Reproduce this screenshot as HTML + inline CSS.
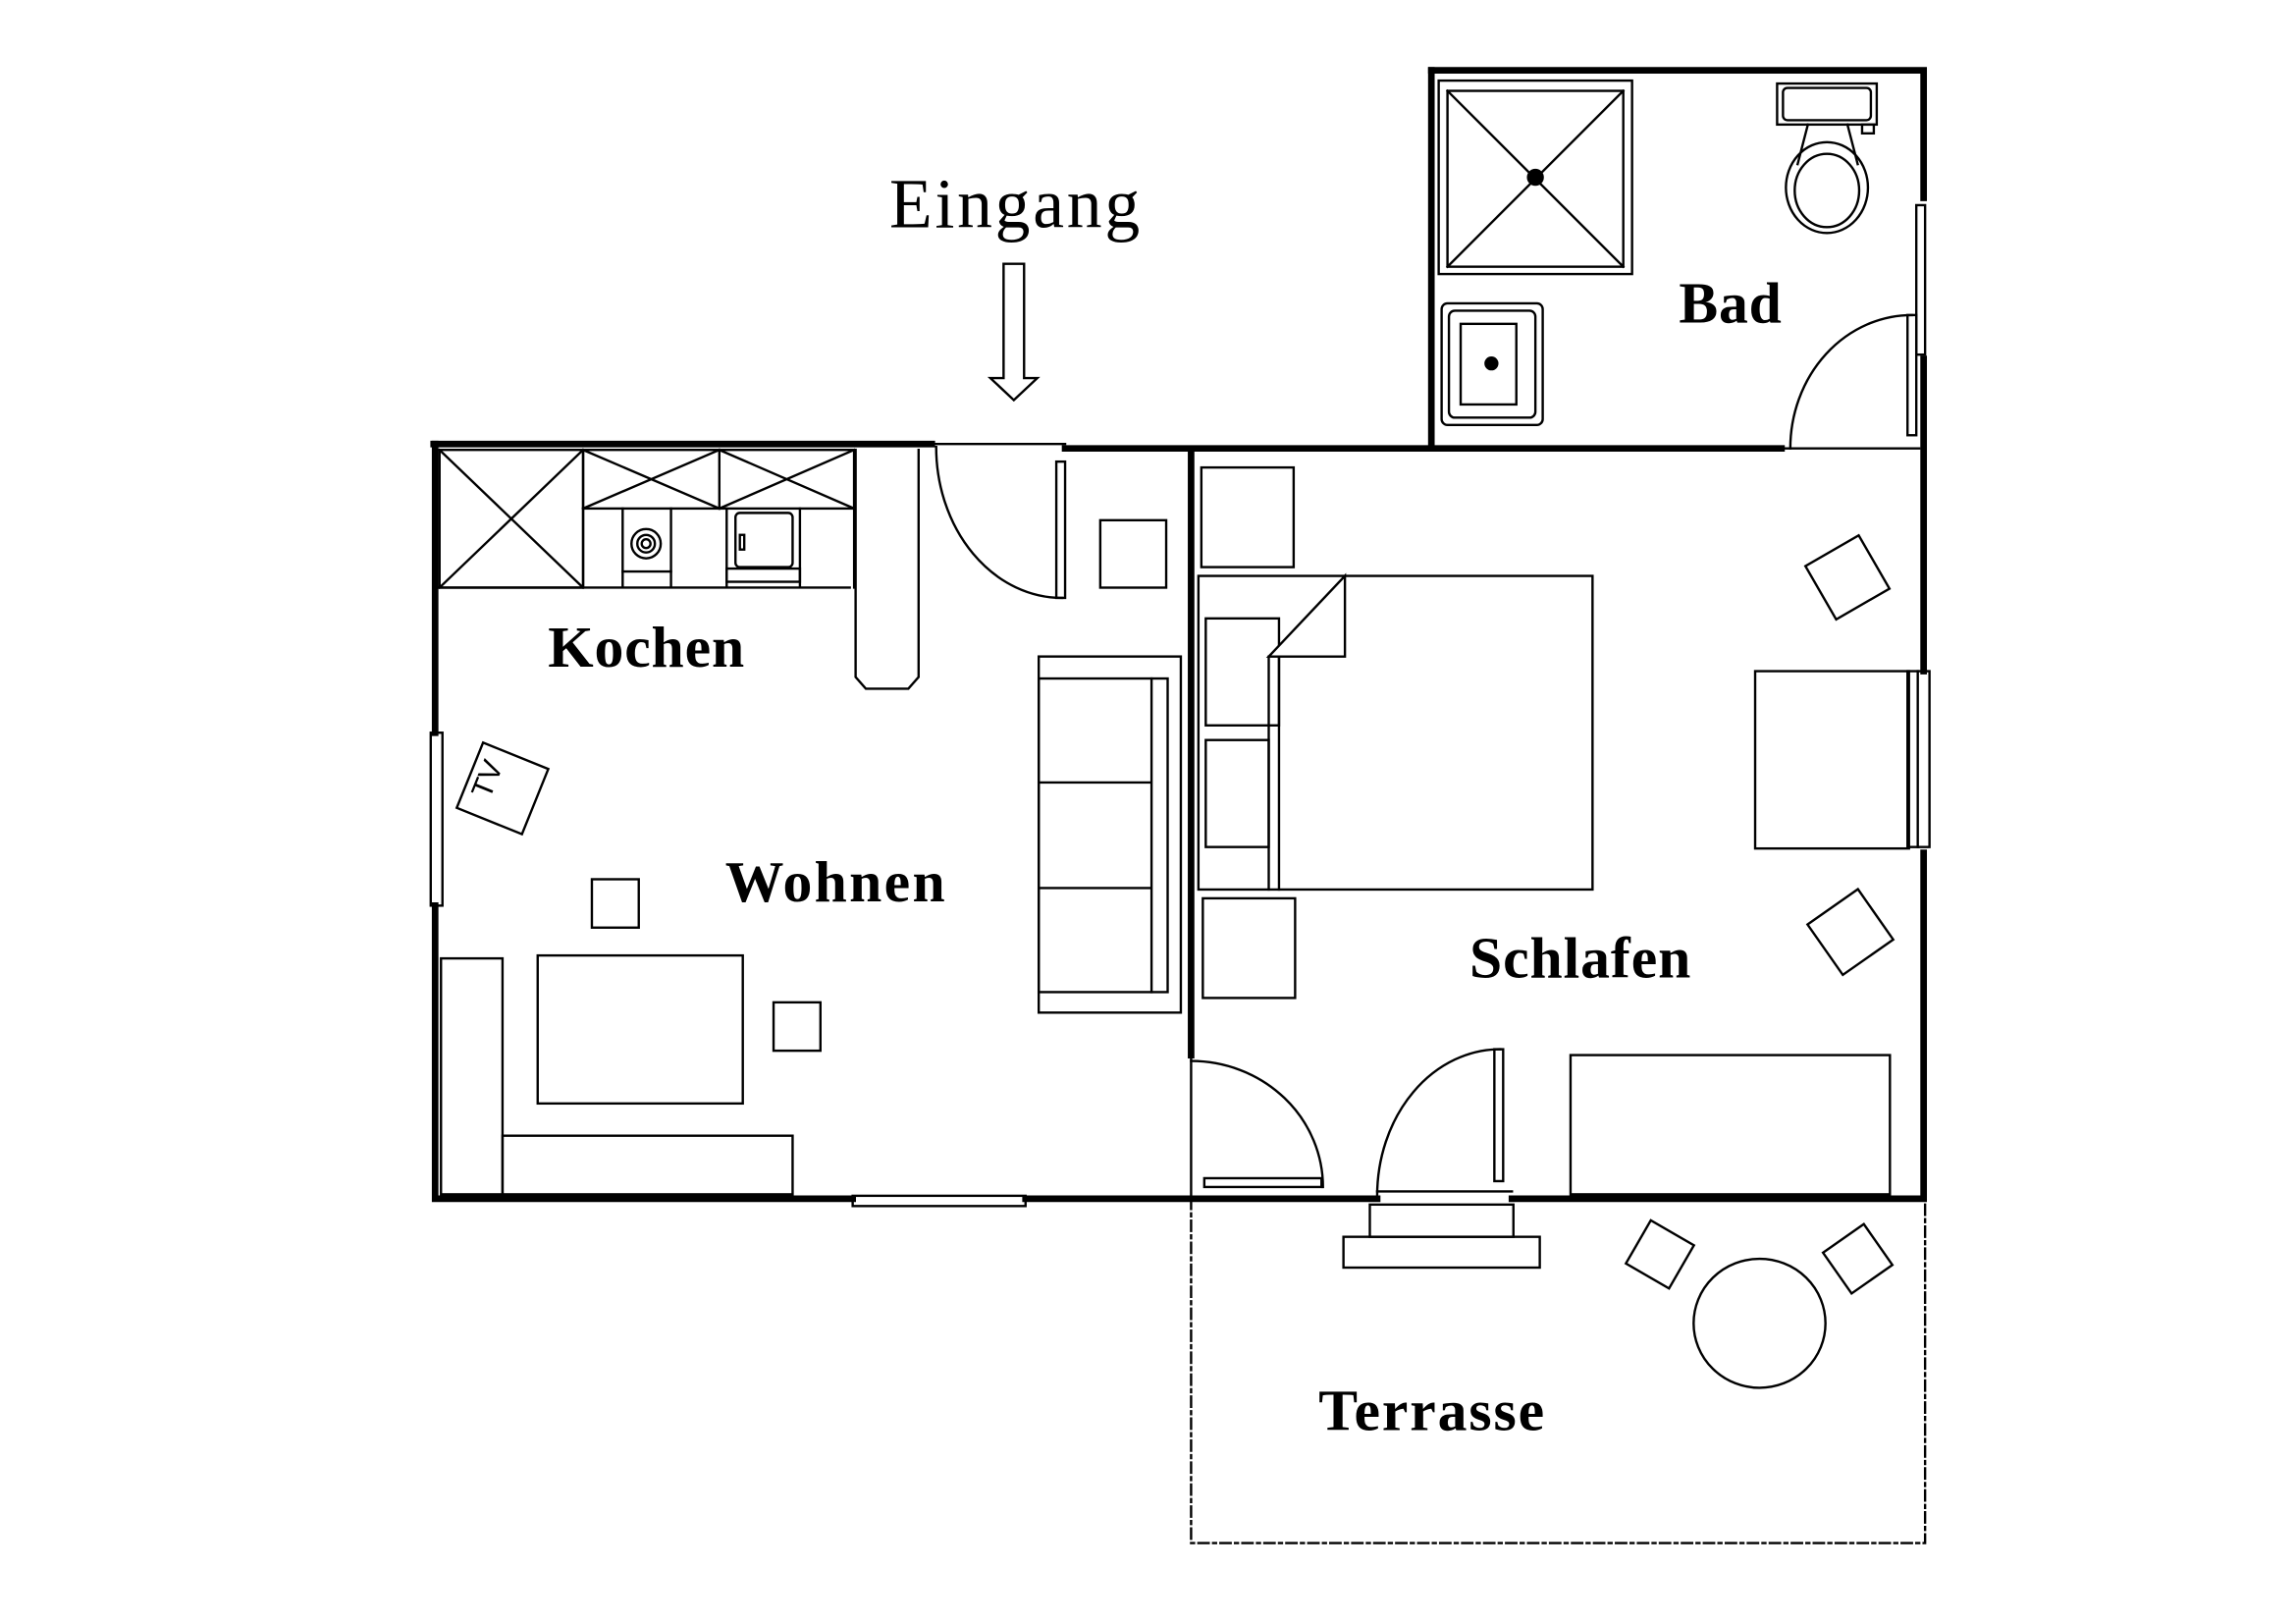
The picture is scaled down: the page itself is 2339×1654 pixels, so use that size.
<!DOCTYPE html>
<html><head><meta charset="utf-8"><style>html,body{margin:0;padding:0;background:#fff}svg{display:block}</style></head><body>
<svg width="2339" height="1654" viewBox="0 0 1559.33 1102.67" xmlns="http://www.w3.org/2000/svg">
<rect x="0" y="0" width="1560" height="1103" fill="#fff"/>
<g transform="scale(0.995)">
<g stroke="#000" fill="none" stroke-linecap="square">
<g stroke-width="4.5">
<path d="M296,303 H636"/>
<path d="M727,306 H1216"/>
<path d="M977,48 V306"/>
<path d="M977,48 H1313 V135"/>
<path d="M1313,245 V458"/>
<path d="M1313,582 V818 H1032"/>
<path d="M940,818 H700"/>
<path d="M582,818 H297 V618"/>
<path d="M297,500 V303"/>
<path d="M813,310 V720"/>
</g>
<g stroke-width="1.6">
<path d="M638,303 H727"/>
<rect x="721" y="315" width="6" height="93"/>
<path d="M639,305 A86,103 0 0 0 725,408"/>
<path d="M1216,306 H1310"/>
<rect x="1302" y="215" width="6" height="82"/>
<path d="M1222,306 A83,91 0 0 1 1305,215"/>
<rect x="1308" y="140" width="6" height="102"/>
<rect x="1302" y="458" width="15" height="120"/>
<path d="M1309,458 V578"/>
<rect x="294" y="500" width="8" height="118"/>
<rect x="582" y="816" width="118" height="7"/>
<path d="M813,720 V818"/>
<rect x="822" y="804" width="80" height="6"/>
<path d="M813,724 A90,86 0 0 1 903,810"/>
<rect x="1020" y="716" width="6" height="90"/>
<path d="M940,816 A84,100 0 0 1 1024,716"/>
<path d="M940,813 H1032"/>
<rect x="935" y="822" width="98" height="22"/>
<rect x="917" y="844" width="134" height="21"/>
<path d="M813,818 V1053 H1314 V818" stroke-dasharray="7 3 2 3"/>
<rect x="300" y="307" width="98" height="94"/>
<path d="M300,307 L398,401 M398,307 L300,401"/>
<rect x="398" y="307" width="185" height="40"/>
<path d="M491,307 V347 M398,307 L491,347 M491,307 L398,347 M491,307 L583,347 M583,307 L491,347"/>
<path d="M300,401 H580 M398,347 V401 M425,347 V401 M458,347 V401 M496,347 V401 M546,347 V401 M583,307 V401"/>
<circle cx="441" cy="371" r="10"/><circle cx="441" cy="371" r="6"/><circle cx="441" cy="371" r="3"/>
<path d="M425,390 H458"/>
<rect x="502" y="350" width="39" height="37" rx="3"/>
<rect x="505" y="365" width="3" height="10"/>
<rect x="496" y="388" width="50" height="9"/>
<path d="M584,307 V462 L591,470 H620 L627,462 V307"/>
<rect x="751" y="355" width="45" height="46"/>
<rect x="709" y="448" width="97" height="243"/>
<rect x="709" y="463" width="88" height="214"/>
<path d="M786,463 V677 M709,534 H786 M709,606 H786"/>
<g transform="translate(343,538) rotate(22)">
<rect x="-24" y="-24" width="48" height="48"/>
</g>
<rect x="404" y="600" width="32" height="33"/>
<rect x="367" y="652" width="140" height="101"/>
<rect x="528" y="684" width="32" height="33"/>
<rect x="301" y="654" width="42" height="161"/>
<rect x="343" y="775" width="198" height="40"/>
<rect x="820" y="319" width="63" height="68"/>
<rect x="818" y="393" width="269" height="214"/>
<rect x="823" y="422" width="50" height="73"/>
<rect x="823" y="505" width="43" height="73"/>
<path d="M866,448 V607 M873,448 V607"/>
<path d="M866,448 L918,393 V448 Z" fill="#fff"/>
<rect x="821" y="613" width="63" height="68"/>
<g transform="translate(1261,394) rotate(-30)"><rect x="-21" y="-21" width="42" height="42"/></g>
<g transform="translate(1263,636) rotate(-35)"><rect x="-21" y="-21" width="42" height="42"/></g>
<rect x="1198" y="458" width="105" height="121"/>
<rect x="1072" y="720" width="218" height="95"/>
<g transform="translate(1133,856) rotate(30)"><rect x="-17" y="-17" width="34" height="34"/></g>
<g transform="translate(1268,859) rotate(-35)"><rect x="-17" y="-17" width="34" height="34"/></g>
<ellipse cx="1201" cy="903" rx="45" ry="44"/>
<rect x="982" y="55" width="132" height="132"/>
<rect x="988" y="62" width="120" height="120"/>
<path d="M988,62 L1108,182 M1108,62 L988,182"/>
<circle cx="1048" cy="121" r="5" fill="#000"/>
<rect x="984" y="207" width="69" height="83" rx="4"/>
<rect x="989" y="212" width="59" height="73" rx="4"/>
<rect x="997" y="221" width="38" height="55"/>
<circle cx="1018" cy="248" r="4" fill="#000"/>
<rect x="1213" y="57" width="68" height="28"/>
<rect x="1217" y="60" width="60" height="22" rx="3"/>
<rect x="1271" y="85" width="8" height="6"/>
<path d="M1234,85 L1227,112 M1261,85 L1268,112"/>
<ellipse cx="1247" cy="128" rx="28" ry="31"/>
<ellipse cx="1247" cy="130" rx="22" ry="25"/>
<path d="M685,180 H699 V258 H708 L692,273 L676,258 H685 Z"/>
</g>
</g>
<g font-family="'Liberation Serif', serif" fill="#000">
<text x="607" y="155" font-size="48" textLength="171">Eingang</text>
<g font-weight="bold" font-size="40">
<text x="374" y="455" textLength="134">Kochen</text>
<text x="495" y="615" textLength="150">Wohnen</text>
<text x="1003" y="667" textLength="151">Schlafen</text>
<text x="1146" y="220" textLength="70">Bad</text>
<text x="900" y="976" textLength="154">Terrasse</text>
</g>
<text x="0" y="0" font-size="20" font-family="'Liberation Sans', sans-serif" transform="translate(334,546) rotate(-68)">TV</text>
</g>
</g>
</svg>
</body></html>
